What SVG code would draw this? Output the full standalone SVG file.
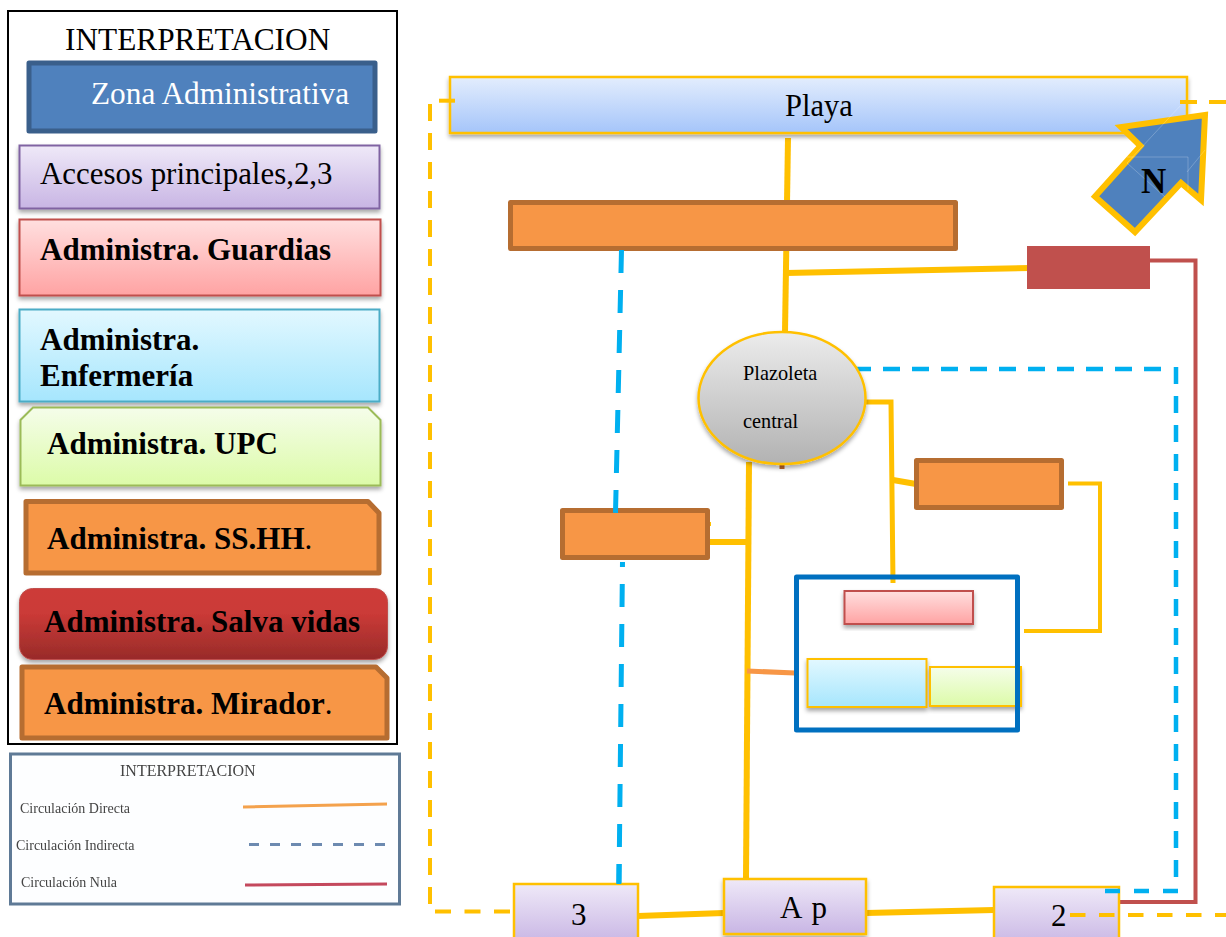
<svg xmlns="http://www.w3.org/2000/svg" width="1226" height="937" viewBox="0 0 1226 937">
<style>
text{font-family:"Liberation Serif","Times New Roman",serif;fill:#000}
.lab{font-size:31px}
.b{font-size:31px;font-weight:bold}
.y{fill:none;stroke:#ffc000;stroke-width:6}
.yd{fill:none;stroke:#ffc000;stroke-width:4;stroke-dasharray:17 12}
.bd{fill:none;stroke:#00b0f0;stroke-width:4.500;stroke-dasharray:17 12}
.ora{fill:#f79646;stroke:#b66d31;stroke-width:5;stroke-linejoin:round}
.sm{font-size:14px;fill:#444;filter:url(#soft)}
.facet{fill:none;stroke:#fff;stroke-opacity:.22;stroke-width:1}
</style>
<defs>
<linearGradient id="gBlue" x1="0" y1="0" x2="0" y2="1"><stop offset="0" stop-color="#e3edfd"/><stop offset="1" stop-color="#a5c5fa"/></linearGradient>
<linearGradient id="gPur" x1="0" y1="0" x2="0" y2="1"><stop offset="0" stop-color="#efe9f8"/><stop offset="1" stop-color="#c8b5e4"/></linearGradient>
<linearGradient id="gRed" x1="0" y1="0" x2="0" y2="1"><stop offset="0" stop-color="#ffdfdf"/><stop offset="1" stop-color="#ffa3a3"/></linearGradient>
<linearGradient id="gCy" x1="0" y1="0" x2="0" y2="1"><stop offset="0" stop-color="#e2f8ff"/><stop offset="1" stop-color="#a6e6fd"/></linearGradient>
<linearGradient id="gGr" x1="0" y1="0" x2="0" y2="1"><stop offset="0" stop-color="#f5fdea"/><stop offset="1" stop-color="#dcfba8"/></linearGradient>
<linearGradient id="gDk" x1="0" y1="0" x2="0" y2="1"><stop offset="0" stop-color="#cd3b38"/><stop offset="0.35" stop-color="#cb3a37"/><stop offset="1" stop-color="#982b29"/></linearGradient>
<linearGradient id="gGy" x1="0" y1="0" x2="0" y2="1"><stop offset="0" stop-color="#ececec"/><stop offset="1" stop-color="#b2b2b2"/></linearGradient>
<filter id="sh" x="-10%" y="-10%" width="120%" height="130%"><feDropShadow dx="0" dy="3" stdDeviation="2" flood-color="#000" flood-opacity="0.35"/></filter>
<filter id="soft" filterUnits="userSpaceOnUse" x="0" y="740" width="410" height="180"><feGaussianBlur stdDeviation="0.5"/></filter>
</defs>

<g id="legend-frame"><rect x="8" y="11" width="389" height="733" fill="#fff" stroke="#000" stroke-width="2"/>
<text x="65" y="50" font-size="31.300">INTERPRETACION</text></g>
<g id="l-zona"><rect x="29" y="63" width="346" height="68" fill="#4f81bd" stroke="#3a5f8b" stroke-width="5" stroke-linejoin="round"/><text x="91" y="104" font-size="31.300" style="fill:#fff">Zona Administrativa</text></g>
<g id="l-accesos"><rect x="19.500" y="145.500" width="360" height="63" fill="url(#gPur)" stroke="#8064a2" stroke-width="2" filter="url(#sh)"/><text x="40" y="184" font-size="30.900">Accesos principales,2,3</text></g>
<g id="l-guardias"><rect x="19.500" y="219.500" width="361" height="76" fill="url(#gRed)" stroke="#c0504d" stroke-width="2" filter="url(#sh)"/><text x="40" y="260" class="b">Administra. Guardias</text></g>
<g id="l-enfermeria"><rect x="19.500" y="309.500" width="360" height="92" fill="url(#gCy)" stroke="#4bacc6" stroke-width="2" filter="url(#sh)"/><text x="40" y="350" class="b">Administra.</text><text x="40" y="386" class="b">Enfermería</text></g>
<g id="l-upc"><path d="M33 407.500H368L380.500 420V485.500H20.500V420Z" fill="url(#gGr)" stroke="#9bbb59" stroke-width="2" filter="url(#sh)"/><text x="47" y="454" class="b">Administra. UPC</text></g>
<g id="l-sshh"><path d="M26 501.500H368L379 513V573H26Z" class="ora"/><text x="47" y="549" class="b">Administra. SS.HH<tspan font-weight="normal">.</tspan></text></g>
<g id="l-salva"><rect x="19.500" y="588.500" width="368" height="71" rx="13" fill="url(#gDk)" stroke="#c0504d" stroke-width="1" filter="url(#sh)"/><text x="44" y="632" class="b">Administra. Salva vidas</text></g>
<g id="l-mirador"><path d="M22 667H376L387 678V738H22Z" class="ora"/><text x="44" y="714" class="b">Administra. Mirador<tspan font-weight="normal">.</tspan></text></g>

<g id="legend-lines">
<rect x="10.500" y="754" width="389" height="150" fill="#fdfeff" stroke="#5f7a96" stroke-width="3"/>
<text x="120" y="776" class="sm" style="font-size:16px">INTERPRETACION</text>
<text x="20" y="813" class="sm">Circulación Directa</text>
<text x="16" y="850" class="sm">Circulación Indirecta</text>
<text x="21" y="887" class="sm">Circulación Nula</text>
<path d="M243 807L387 804" fill="none" stroke="#f4a24e" stroke-width="3" filter="url(#soft)"/>
<path d="M249 844.500H392" fill="none" stroke="#6d8ab0" stroke-width="3" stroke-dasharray="10 11" filter="url(#soft)"/>
<path d="M245 885L387 884" fill="none" stroke="#c4485d" stroke-width="3" filter="url(#soft)"/>
</g>

<g id="connectors">
<path d="M430 104V905" class="yd"/>
<path d="M435 911.500H514" class="yd" style="stroke-dasharray:16 13.500"/>
<path d="M622.500 562L619 884" class="bd" style="stroke-width:5;stroke-dasharray:23 17;stroke-dashoffset:18"/>
<path d="M854 369H1162" class="bd"/>
<path d="M1176 367V877" class="bd"/>
<path d="M1150 260.500H1195.500V902H1120" fill="none" stroke="#c0504d" stroke-width="4"/>
<path d="M788 138L785 332" class="y"/>
<path d="M786 273L1030 268" class="y"/>
<path d="M749 462L746 878" class="y"/>
<path d="M708 542H749" class="y"/>
<path d="M709 524H711" class="y" style="stroke-width:4"/>
<path d="M866 402H891L893 583" class="y" style="stroke-width:5"/>
<path d="M893 480L916 484" class="y"/>
<path d="M1068 483.500H1100V631H1024" class="y" style="stroke-width:4"/>
<path d="M747 671L795 673" fill="none" stroke="#f79646" stroke-width="5"/>
<path d="M638 916L724 913" class="y"/>
<path d="M866 913L994 910" class="y"/>
<path d="M782 460V469" fill="none" stroke="#c0682c" stroke-width="5"/>
</g>

<g id="playa"><rect x="450" y="77" width="737" height="56" fill="url(#gBlue)" stroke="#ffc000" stroke-width="2.500" filter="url(#sh)"/><text x="785" y="116" font-size="30.500">Playa</text></g>
<g id="norte"><path d="M1205 115L1121 127L1140.500 146L1095 196.500L1135 232L1181 183L1201 200Z" fill="#4f81bd" stroke="#ffc000" stroke-width="6" stroke-miterlimit="10"/>
<path class="facet" d="M1180 106L1127 163L1165 197M1127 157H1188V190M1205 150L1187 172"/>
<text x="1141" y="193" font-size="35" font-weight="bold">N</text></g>
<g id="n-mirador"><rect x="510.500" y="202.500" width="445" height="46" class="ora"/></g>
<g id="n-salva"><rect x="1027" y="246" width="123" height="43" fill="#c0504d"/></g>
<g id="n-plazoleta"><ellipse cx="782" cy="398" rx="83.500" ry="66" fill="url(#gGy)" stroke="#ffc000" stroke-width="2.500" filter="url(#sh)"/><text x="743" y="380" font-size="20.300">Plazoleta</text><text x="743" y="428" font-size="20.300">central</text></g>
<g id="n-ss1"><rect x="562.500" y="510.500" width="145" height="47" class="ora"/></g>
<g id="n-ss2"><rect x="916.500" y="460.500" width="145" height="47" class="ora"/></g>
<g id="n-admin">
<rect x="844.500" y="591" width="128.500" height="33" fill="url(#gRed)" stroke="#c0504d" stroke-width="2" filter="url(#sh)"/>
<rect x="807.500" y="659" width="119" height="48" fill="url(#gCy)" stroke="#ffc000" stroke-width="2" filter="url(#sh)"/>
<rect x="930" y="667" width="91" height="39" fill="url(#gGr)" stroke="#ffc000" stroke-width="2" filter="url(#sh)"/>
<rect x="796.500" y="577" width="221" height="153" fill="none" stroke="#0070c0" stroke-width="5" stroke-linejoin="round"/>
</g>
<g id="n-3"><rect x="514" y="884" width="124" height="60" fill="url(#gPur)" stroke="#ffc000" stroke-width="2.500"/><text x="571" y="925" class="lab">3</text></g>
<g id="n-ap"><rect x="724" y="879" width="142" height="55" fill="url(#gPur)" stroke="#ffc000" stroke-width="2.500" filter="url(#sh)"/><text x="780" y="918" class="lab">A<tspan dx="9">p</tspan></text></g>
<g id="n-2"><rect x="994" y="887" width="125" height="60" fill="url(#gPur)" stroke="#ffc000" stroke-width="2.500"/><text x="1051" y="926" class="lab">2</text></g>
<g id="connectors-over">
<path d="M439 100.700H455" class="yd" style="stroke-dasharray:none"/>
<path d="M1180 102H1226" class="yd"/>
<path d="M1070 915H1226" class="yd" style="stroke-dasharray:15.500 13.500"/>
<path d="M621.500 250L615.500 513" class="bd" style="stroke-width:5;stroke-dasharray:23 17"/>
<path d="M619 864L618.800 884" class="bd" style="stroke-width:5;stroke-dasharray:none"/>
<path d="M1178 891H1104" class="bd" style="stroke-dasharray:15 14"/>
</g>
</svg>
